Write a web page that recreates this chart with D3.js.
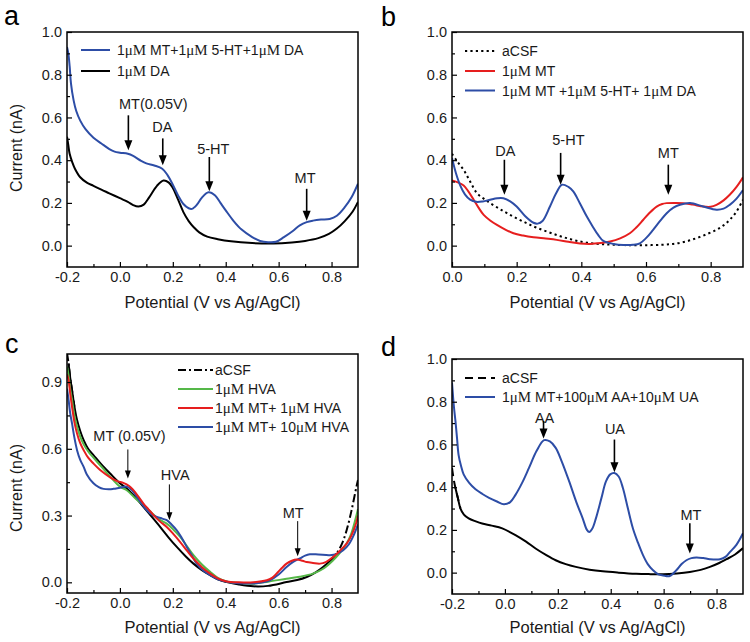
<!DOCTYPE html>
<html><head><meta charset="utf-8">
<script src="https://cdn.jsdelivr.net/npm/d3@7"></script>
<style>
body{margin:0;background:#fff}
text{font-family:"Liberation Sans",Arial,sans-serif}
</style>
</head><body>
<svg id="chart" width="750" height="642"></svg>
<script>
// ---------- DATA: [potential (V), current (nA)] ----------
const aBlue = [[-0.2,0.93],[-0.195,0.9],[-0.19,0.84],[-0.185,0.76],[-0.175,0.68],[-0.165,0.63],[-0.15,0.585],[-0.13,0.545],[-0.1,0.505],[-0.07,0.478],[-0.04,0.452],[-0.02,0.44],[0,0.435],[0.03,0.43],[0.05,0.42],[0.08,0.397],[0.1,0.385],[0.13,0.375],[0.16,0.36],[0.18,0.33],[0.2,0.285],[0.22,0.235],[0.24,0.195],[0.26,0.175],[0.272,0.172],[0.29,0.19],[0.31,0.225],[0.335,0.25],[0.36,0.235],[0.38,0.2],[0.4,0.165],[0.43,0.115],[0.46,0.075],[0.5,0.04],[0.53,0.022],[0.56,0.016],[0.59,0.018],[0.62,0.04],[0.655,0.07],[0.68,0.095],[0.706,0.11],[0.73,0.117],[0.76,0.122],[0.793,0.125],[0.82,0.14],[0.85,0.18],[0.875,0.225],[0.9,0.29]];
const aBlack = [[-0.2,0.51],[-0.195,0.47],[-0.19,0.43],[-0.18,0.39],[-0.17,0.36],[-0.15,0.32],[-0.125,0.295],[-0.1,0.28],[-0.07,0.262],[-0.04,0.245],[0,0.222],[0.03,0.205],[0.05,0.19],[0.07,0.183],[0.09,0.192],[0.11,0.225],[0.14,0.28],[0.165,0.305],[0.185,0.295],[0.2,0.27],[0.22,0.215],[0.24,0.157],[0.26,0.115],[0.28,0.085],[0.3,0.062],[0.33,0.042],[0.37,0.03],[0.42,0.02],[0.5,0.012],[0.58,0.01],[0.65,0.015],[0.7,0.022],[0.75,0.035],[0.79,0.055],[0.82,0.08],[0.85,0.115],[0.88,0.16],[0.9,0.205]];

const bBlack = [[0,0.43],[0.018,0.39],[0.036,0.355],[0.056,0.3],[0.077,0.246],[0.098,0.22],[0.118,0.199],[0.145,0.174],[0.17,0.152],[0.2,0.128],[0.231,0.105],[0.26,0.085],[0.293,0.066],[0.325,0.049],[0.355,0.035],[0.385,0.023],[0.417,0.014],[0.46,0.007],[0.5,0.004],[0.55,0.002],[0.6,0.002],[0.65,0.004],[0.684,0.008],[0.72,0.018],[0.756,0.035],[0.79,0.055],[0.818,0.074],[0.84,0.095],[0.859,0.121],[0.88,0.16],[0.9,0.215]];
const bRed = [[0,0.305],[0.02,0.295],[0.036,0.282],[0.05,0.255],[0.067,0.215],[0.082,0.178],[0.098,0.144],[0.118,0.118],[0.139,0.097],[0.165,0.075],[0.19,0.058],[0.22,0.047],[0.252,0.039],[0.29,0.033],[0.324,0.027],[0.36,0.018],[0.396,0.01],[0.427,0.008],[0.46,0.012],[0.489,0.019],[0.52,0.034],[0.55,0.058],[0.57,0.085],[0.591,0.12],[0.612,0.155],[0.633,0.183],[0.65,0.195],[0.664,0.199],[0.69,0.2],[0.715,0.199],[0.745,0.192],[0.777,0.183],[0.8,0.182],[0.818,0.191],[0.84,0.212],[0.859,0.238],[0.88,0.275],[0.9,0.32]];
const bBlue = [[0,0.41],[0.012,0.34],[0.026,0.28],[0.04,0.24],[0.056,0.215],[0.075,0.205],[0.095,0.207],[0.118,0.215],[0.14,0.222],[0.159,0.222],[0.18,0.207],[0.2,0.183],[0.225,0.14],[0.252,0.107],[0.265,0.103],[0.28,0.115],[0.303,0.183],[0.322,0.245],[0.34,0.285],[0.36,0.275],[0.375,0.254],[0.395,0.2],[0.417,0.136],[0.435,0.09],[0.452,0.05],[0.468,0.022],[0.5,0.008],[0.53,0.003],[0.56,0.004],[0.581,0.011],[0.6,0.035],[0.622,0.074],[0.645,0.118],[0.664,0.152],[0.685,0.178],[0.705,0.191],[0.736,0.199],[0.777,0.183],[0.818,0.168],[0.84,0.173],[0.859,0.191],[0.88,0.22],[0.9,0.26]];

const cBlack = [[-0.2,1.03],[-0.194,0.984],[-0.188,0.92],[-0.181,0.864],[-0.172,0.79],[-0.162,0.729],[-0.15,0.68],[-0.137,0.639],[-0.12,0.6],[-0.1,0.572],[-0.07,0.53],[-0.037,0.489],[0,0.445],[0.026,0.422],[0.06,0.38],[0.089,0.339],[0.12,0.295],[0.152,0.249],[0.185,0.2],[0.215,0.159],[0.25,0.115],[0.278,0.084],[0.31,0.055],[0.341,0.032],[0.37,0.013],[0.404,0.001],[0.45,-0.01],[0.504,-0.018],[0.56,-0.016],[0.63,0.001],[0.67,0.01],[0.706,0.024],[0.74,0.045],[0.768,0.069],[0.795,0.097],[0.819,0.129],[0.84,0.175],[0.857,0.234],[0.875,0.32],[0.894,0.429],[0.9,0.46]];
const cGreen = [[-0.2,0.97],[-0.194,0.93],[-0.188,0.87],[-0.181,0.82],[-0.172,0.75],[-0.162,0.7],[-0.15,0.655],[-0.137,0.62],[-0.12,0.588],[-0.1,0.56],[-0.07,0.52],[-0.037,0.475],[0,0.43],[0.026,0.414],[0.06,0.375],[0.089,0.347],[0.115,0.318],[0.14,0.29],[0.16,0.275],[0.177,0.264],[0.2,0.24],[0.228,0.204],[0.255,0.16],[0.278,0.122],[0.31,0.08],[0.341,0.047],[0.37,0.02],[0.404,0.004],[0.45,-0.003],[0.504,-0.006],[0.56,0.003],[0.63,0.016],[0.68,0.025],[0.73,0.039],[0.77,0.062],[0.806,0.099],[0.83,0.13],[0.857,0.174],[0.875,0.22],[0.894,0.3],[0.9,0.33]];
const cRed = [[-0.2,0.935],[-0.194,0.909],[-0.188,0.85],[-0.181,0.789],[-0.172,0.72],[-0.162,0.669],[-0.15,0.625],[-0.137,0.594],[-0.12,0.56],[-0.1,0.534],[-0.07,0.5],[-0.037,0.472],[-0.01,0.455],[0.013,0.447],[0.035,0.433],[0.051,0.414],[0.07,0.385],[0.089,0.354],[0.108,0.328],[0.127,0.302],[0.15,0.275],[0.177,0.249],[0.2,0.22],[0.228,0.181],[0.255,0.14],[0.278,0.107],[0.31,0.068],[0.341,0.039],[0.37,0.018],[0.404,0.004],[0.45,0.0],[0.504,0.0],[0.555,0.009],[0.575,0.02],[0.592,0.039],[0.612,0.064],[0.63,0.084],[0.65,0.097],[0.668,0.102],[0.69,0.097],[0.706,0.091],[0.73,0.087],[0.756,0.084],[0.78,0.092],[0.806,0.114],[0.83,0.14],[0.857,0.174],[0.875,0.21],[0.894,0.27],[0.9,0.3]];
const cBlue = [[-0.2,0.87],[-0.194,0.82],[-0.188,0.76],[-0.181,0.714],[-0.172,0.65],[-0.162,0.594],[-0.15,0.55],[-0.137,0.519],[-0.125,0.485],[-0.1,0.445],[-0.08,0.428],[-0.062,0.42],[-0.04,0.418],[-0.024,0.42],[0,0.425],[0.026,0.43],[0.045,0.415],[0.064,0.384],[0.083,0.352],[0.102,0.324],[0.12,0.305],[0.14,0.294],[0.16,0.286],[0.177,0.279],[0.195,0.26],[0.215,0.234],[0.235,0.197],[0.253,0.159],[0.272,0.12],[0.29,0.084],[0.315,0.053],[0.341,0.032],[0.37,0.014],[0.404,0.003],[0.45,-0.004],[0.504,-0.005],[0.54,0.0],[0.567,0.009],[0.6,0.035],[0.63,0.069],[0.655,0.092],[0.68,0.107],[0.7,0.12],[0.718,0.126],[0.75,0.125],[0.794,0.122],[0.82,0.128],[0.844,0.144],[0.865,0.17],[0.885,0.215],[0.9,0.26]];

const dBlack = [[-0.2,0.49],[-0.194,0.44],[-0.187,0.396],[-0.178,0.35],[-0.168,0.3],[-0.155,0.272],[-0.137,0.254],[-0.11,0.24],[-0.086,0.23],[-0.05,0.22],[-0.01,0.207],[0.04,0.176],[0.08,0.145],[0.116,0.113],[0.155,0.083],[0.192,0.058],[0.23,0.04],[0.268,0.027],[0.32,0.014],[0.37,0.006],[0.43,0.0],[0.496,-0.005],[0.55,-0.007],[0.598,-0.008],[0.65,-0.004],[0.699,0.003],[0.74,0.013],[0.775,0.027],[0.81,0.045],[0.838,0.063],[0.87,0.085],[0.9,0.115]];
const dBlue = [[-0.2,0.89],[-0.193,0.78],[-0.187,0.71],[-0.181,0.63],[-0.175,0.55],[-0.166,0.5],[-0.156,0.46],[-0.135,0.42],[-0.111,0.39],[-0.085,0.368],[-0.06,0.35],[-0.03,0.333],[-0.004,0.32],[0.02,0.33],[0.04,0.364],[0.065,0.42],[0.091,0.49],[0.12,0.57],[0.148,0.62],[0.17,0.614],[0.192,0.584],[0.215,0.52],[0.243,0.427],[0.27,0.33],[0.294,0.254],[0.31,0.2],[0.319,0.19],[0.33,0.205],[0.344,0.254],[0.365,0.35],[0.382,0.427],[0.398,0.46],[0.414,0.466],[0.43,0.45],[0.446,0.396],[0.465,0.3],[0.484,0.207],[0.503,0.14],[0.522,0.082],[0.54,0.04],[0.56,0.011],[0.58,-0.008],[0.598,-0.013],[0.623,-0.016],[0.648,0.011],[0.668,0.04],[0.686,0.058],[0.705,0.068],[0.724,0.071],[0.75,0.068],[0.775,0.063],[0.813,0.063],[0.835,0.075],[0.851,0.097],[0.875,0.13],[0.9,0.184]];

// legend labels
const aLabels = ["1μM MT+1μM 5-HT+1μM DA", "1μM DA"];
const bLabels = ["aCSF", "1μM MT", "1μM MT +1μM 5-HT+ 1μM DA"];
const cLabels = ["aCSF", "1μM HVA", "1μM MT+ 1μM HVA", "1μM MT+ 10μM HVA"];
const dLabels = ["aCSF", "1μM MT+100μM AA+10μM UA"];

// tick values
const xTicksA = [-0.2, 0, 0.2, 0.4, 0.6, 0.8];
const xMinorA = [-0.1, 0.1, 0.3, 0.5, 0.7];
const xTicksB = [0, 0.2, 0.4, 0.6, 0.8];
const xMinorB = [0.1, 0.3, 0.5, 0.7];
const yTicks10 = [0, 0.2, 0.4, 0.6, 0.8, 1.0];
const yMinor10 = [0.1, 0.3, 0.5, 0.7, 0.9];
const yTicksC = [0, 0.3, 0.6, 0.9];
const yMinorC = [0.15, 0.45, 0.75];

// annotations: label, label x, label baseline y, arrow x, arrow tail y, arrow tip y (data units)
const aNotes = [["MT(0.05V)",0.126,0.638,0.032,0.61,0.446],["DA",0.16,0.53,0.162,0.502,0.376],["5-HT",0.353,0.427,0.338,0.415,0.255],["MT",0.70,0.292,0.706,0.266,0.117]];
const bNotes = [["DA",0.165,0.418,0.162,0.402,0.238],["5-HT",0.36,0.473,0.336,0.434,0.285],["MT",0.669,0.41,0.669,0.379,0.238]];
const cNotes = [["MT (0.05V)",0.036,0.635,0.03,0.597,0.467],["HVA",0.209,0.462,0.187,0.44,0.279],["MT",0.655,0.289,0.672,0.275,0.117]];
const dNotes = [["AA",0.15,0.70,0.146,0.71,0.628],["UA",0.416,0.647,0.414,0.623,0.47],["MT",0.703,0.247,0.699,0.231,0.089]];

// ---------- STYLE ----------
const BLUE = "#2d4da6", RED = "#e61e1e", GREEN = "#55b848", BLACK = "#000";
const svg = d3.select("#chart");
const fmt = v => v.toFixed(1);

const panels = [
  {letter:"a", lx:4, ly:25, frame:[67,32,358,267], xDom:[-0.2,0.9], yDom:[-0.1,1.0],
   xT:xTicksA, xM:xMinorA, yT:yTicks10, yM:yMinor10, ylabel:true,
   series:[{d:aBlack,c:BLACK,name:aLabels[1]},{d:aBlue,c:BLUE,name:aLabels[0]}],
   legendOrder:[1,0], leg:{x0:14,x1:43,tx:50,rows:[18,39]}, notes:aNotes, thick:true},
  {letter:"b", lx:381, ly:26, frame:[452,32,743,267], xDom:[0,0.9], yDom:[-0.1,1.0],
   xT:xTicksB, xM:xMinorB, yT:yTicks10, yM:yMinor10, ylabel:false,
   series:[{d:bBlack,c:BLACK,name:bLabels[0],dash:"2.2,3.2",w:2},{d:bRed,c:RED,name:bLabels[1]},{d:bBlue,c:BLUE,name:bLabels[2]}],
   legendOrder:[0,1,2], leg:{x0:13,x1:43,tx:50,rows:[19,39,58.5]}, notes:bNotes, thick:true},
  {letter:"c", lx:5, ly:353, frame:[67,354,358,593], xDom:[-0.2,0.9], yDom:[-0.048,1.026],
   xT:xTicksA, xM:xMinorA, yT:yTicksC, yM:yMinorC, ylabel:true,
   series:[{d:cBlack,c:BLACK,name:cLabels[0],mixed:[-0.175,0.8],dash:"8,3,2,3"},{d:cGreen,c:GREEN,name:cLabels[1]},{d:cBlue,c:BLUE,name:cLabels[3]},{d:cRed,c:RED,name:cLabels[2]}],
   legendOrder:[0,1,3,2], leg:{x0:111,x1:146,tx:148,rows:[16,35,54,73]}, notes:cNotes, thick:false},
  {letter:"d", lx:381, ly:356, frame:[452,359,743,594], xDom:[-0.2,0.9], yDom:[-0.1,1.0],
   xT:xTicksA, xM:xMinorA, yT:yTicks10, yM:yMinor10, ylabel:false,
   series:[{d:dBlack,c:BLACK,name:dLabels[0],mixed:[-0.172,1],dash:"8,5"},{d:dBlue,c:BLUE,name:dLabels[1]}],
   legendOrder:[0,1], leg:{x0:13,x1:43,tx:50,rows:[19,38]}, notes:dNotes, thick:true}
];

function addLabel(sel, label) {
  // "μM" is set in a serif face as in the original figure
  const parts = label.split("μM");
  parts.forEach((p, i) => {
    if (p.length) sel.append("tspan").text(p);
    if (i < parts.length - 1) sel.append("tspan").attr("font-family", "'Liberation Serif','Times New Roman',serif").attr("font-size", "15px").text("μM");
  });
}

panels.forEach((p, pi) => {
  const [x0, y0, x1, y1] = p.frame;
  const x = d3.scaleLinear().domain(p.xDom).range([x0, x1]);
  const y = d3.scaleLinear().domain(p.yDom).range([y1, y0]);
  const g = svg.append("g");
  const cid = "clip" + pi;
  svg.append("clipPath").attr("id", cid).append("rect").attr("x", x0).attr("y", y0).attr("width", x1 - x0).attr("height", y1 - y0);

  const line = d3.line().x(d => x(d[0])).y(d => y(d[1])).curve(d3.curveCatmullRom.alpha(0.5));
  const plot = g.append("g").attr("clip-path", `url(#${cid})`);
  p.series.forEach(s => {
    const w = s.w || 2;
    if (s.mixed) {
      const [lo, hi] = s.mixed;
      const mid = s.d.filter(d => d[0] >= lo - 0.02 && d[0] <= hi + 0.02);
      const left = s.d.filter(d => d[0] <= lo + 0.01);
      const right = s.d.filter(d => d[0] >= hi - 0.02);
      plot.append("path").attr("d", line(mid)).attr("fill", "none").attr("stroke", s.c).attr("stroke-width", w);
      if (left.length > 1) plot.append("path").attr("d", line(left)).attr("fill", "none").attr("stroke", s.c).attr("stroke-width", w).attr("stroke-dasharray", s.dash);
      if (right.length > 1) plot.append("path").attr("d", line(right)).attr("fill", "none").attr("stroke", s.c).attr("stroke-width", w).attr("stroke-dasharray", s.dash);
    } else {
      plot.append("path").attr("d", line(s.d)).attr("fill", "none").attr("stroke", s.c)
        .attr("stroke-width", w).attr("stroke-dasharray", s.dash || null);
    }
  });

  // axes (ticks pointing inward)
  const styleAxis = a => { a.select(".domain").remove(); a.selectAll("line").attr("stroke", "#000").attr("stroke-width", 1.2); a.selectAll("text").attr("font-size", "14.5px").attr("fill", "#1a1a1a").attr("font-family", "'Liberation Sans',Arial,sans-serif"); };
  g.append("g").attr("transform", `translate(0,${y1})`)
    .call(d3.axisBottom(x).tickValues(p.xT).tickSizeInner(-5).tickSizeOuter(0).tickPadding(5).tickFormat(fmt)).call(styleAxis);
  g.append("g").attr("transform", `translate(0,${y1})`)
    .call(d3.axisBottom(x).tickValues(p.xM).tickSizeInner(-3).tickSizeOuter(0).tickFormat("")).call(styleAxis);
  g.append("g").attr("transform", `translate(${x0},0)`)
    .call(d3.axisLeft(y).tickValues(p.yT).tickSizeInner(-5).tickSizeOuter(0).tickPadding(5).tickFormat(fmt)).call(styleAxis);
  g.append("g").attr("transform", `translate(${x0},0)`)
    .call(d3.axisLeft(y).tickValues(p.yM).tickSizeInner(-3).tickSizeOuter(0).tickFormat("")).call(styleAxis);

  g.append("rect").attr("x", x0).attr("y", y0).attr("width", x1 - x0).attr("height", y1 - y0)
    .attr("fill", "none").attr("stroke", "#000").attr("stroke-width", 1.5);

  // legend
  p.legendOrder.forEach((si, r) => {
    const s = p.series[si];
    const ly = y0 + p.leg.rows[r];
    g.append("line").attr("x1", x0 + p.leg.x0).attr("x2", x0 + p.leg.x1).attr("y1", ly).attr("y2", ly)
      .attr("stroke", s.c).attr("stroke-width", s.w || 2).attr("stroke-dasharray", s.dash || null);
    const t = g.append("text").attr("x", x0 + p.leg.tx).attr("y", ly + 5).attr("font-size", "14px").attr("fill", "#1a1a1a");
    addLabel(t, s.name);
  });

  // annotations
  const hl = p.thick ? 10 : 8, hw = p.thick ? 4 : 3;
  p.notes.forEach(n => {
    const [lab, tx, ty, ax, ay0, ay1] = n;
    g.append("text").attr("x", x(tx)).attr("y", y(ty)).attr("text-anchor", "middle").attr("font-size", "14.5px").attr("fill", "#1a1a1a").text(lab);
    const X = x(ax), Yt = y(ay0), Yp = y(ay1);
    g.append("line").attr("x1", X).attr("x2", X).attr("y1", Yt).attr("y2", Yp - hl + 1).attr("stroke", "#000").attr("stroke-width", p.thick ? 1.6 : 1);
    g.append("path").attr("d", `M${X},${Yp} L${X - hw},${Yp - hl} L${X + hw},${Yp - hl} Z`).attr("fill", "#000");
  });

  // axis titles
  g.append("text").attr("x", (x0 + x1) / 2).attr("y", p.letter === "a" || p.letter === "b" ? 308 : 633)
    .attr("text-anchor", "middle").attr("font-size", "16.5px").attr("fill", "#1a1a1a").text("Potential (V vs Ag/AgCl)");
  if (p.ylabel) {
    const cy = p.letter === "a" ? 148 : 488;
    g.append("text").attr("transform", `translate(22,${cy}) rotate(-90)`).attr("text-anchor", "middle")
      .attr("font-size", "16px").attr("fill", "#1a1a1a").text("Current (nA)");
  }
  svg.append("text").attr("x", p.lx).attr("y", p.ly).attr("font-size", "27px").attr("fill", "#000").text(p.letter);
});
</script>
</body></html>
